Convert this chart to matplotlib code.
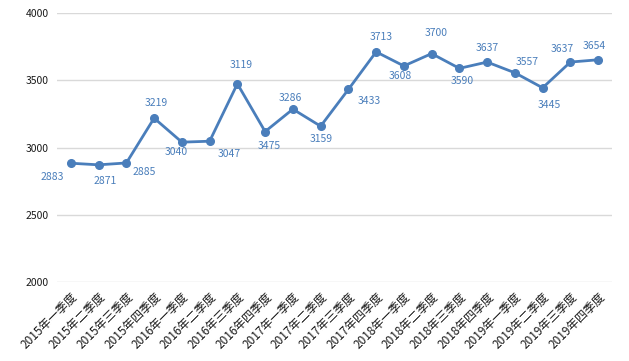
import matplotlib
matplotlib.use("Agg")
import matplotlib.pyplot as plt

plt.rcParams['font.family'] = ['Noto Sans CJK SC', 'DejaVu Sans']

categories = ["2015年一季度", "2015年二季度", "2015年三季度", "2015年四季度",
              "2016年一季度", "2016年二季度", "2016年三季度", "2016年四季度",
              "2017年一季度", "2017年二季度", "2017年三季度", "2017年四季度",
              "2018年一季度", "2018年二季度", "2018年三季度", "2018年四季度",
              "2019年一季度", "2019年二季度", "2019年三季度", "2019年四季度"]
values = [2883, 2871, 2885, 3219, 3040, 3047, 3475, 3119, 3286, 3159,
          3433, 3713, 3608, 3700, 3590, 3637, 3557, 3445, 3637, 3654]
# label texts as printed in the chart (two labels are swapped in the source)
label_texts = ["2883", "2871", "2885", "3219", "3040", "3047", "3119", "3475", "3286", "3159",
               "3433", "3713", "3608", "3700", "3590", "3637", "3557", "3445", "3637", "3654"]
yticks = [2000, 2500, 3000, 3500, 4000]

# label offsets in pixels (dx right, dy down)
label_offsets = [(-19, 14), (7, 16), (18, 9), (2, -15), (-6, 10), (20, 13), (4, -19), (4, 14),
                 (-3, -11), (1, 13), (21, 12), (5, -15), (-4, 10), (5, -21), (3, 13), (0, -14),
                 (12, -11), (7, 17), (-8, -13), (-4, -14)]

color = "#4a7ebb"
fig = plt.figure(figsize=(6.29, 3.61), dpi=100)
ax = fig.add_axes([0.0906, 0.2197, 0.973 - 0.0906, 0.963 - 0.2197])

x = list(range(len(values)))
ax.plot(x, values, color=color, linewidth=2.0, marker='o', markersize=5.5, zorder=3)

px2pt = 72 / 100
for xi, v, t, (dx, dy) in zip(x, values, label_texts, label_offsets):
    ax.annotate(t, (xi, v), xytext=(dx * px2pt, -dy * px2pt), textcoords='offset points',
                ha='center', va='center', fontsize=7.5, color=color)

ax.set_xlim(-0.5, len(values) - 0.5)
ax.set_ylim(2000, 4000)
ax.set_yticks(yticks)
ax.set_yticklabels([str(t) for t in yticks], fontsize=7.5, color="#1a1a1a")
ax.set_xticks(x)
ax.set_xticklabels(categories, rotation=45, ha='right', rotation_mode='anchor',
                   fontsize=8.5, color="#1a1a1a")
ax.tick_params(axis='both', length=0)
ax.tick_params(axis='y', pad=6)
ax.tick_params(axis='x', pad=6)
ax.grid(axis='y', color="#d9d9d9", linewidth=1.0, zorder=0)
ax.set_axisbelow(True)
for s in ax.spines.values():
    s.set_visible(False)

fig.savefig("out.png", dpi=100)
